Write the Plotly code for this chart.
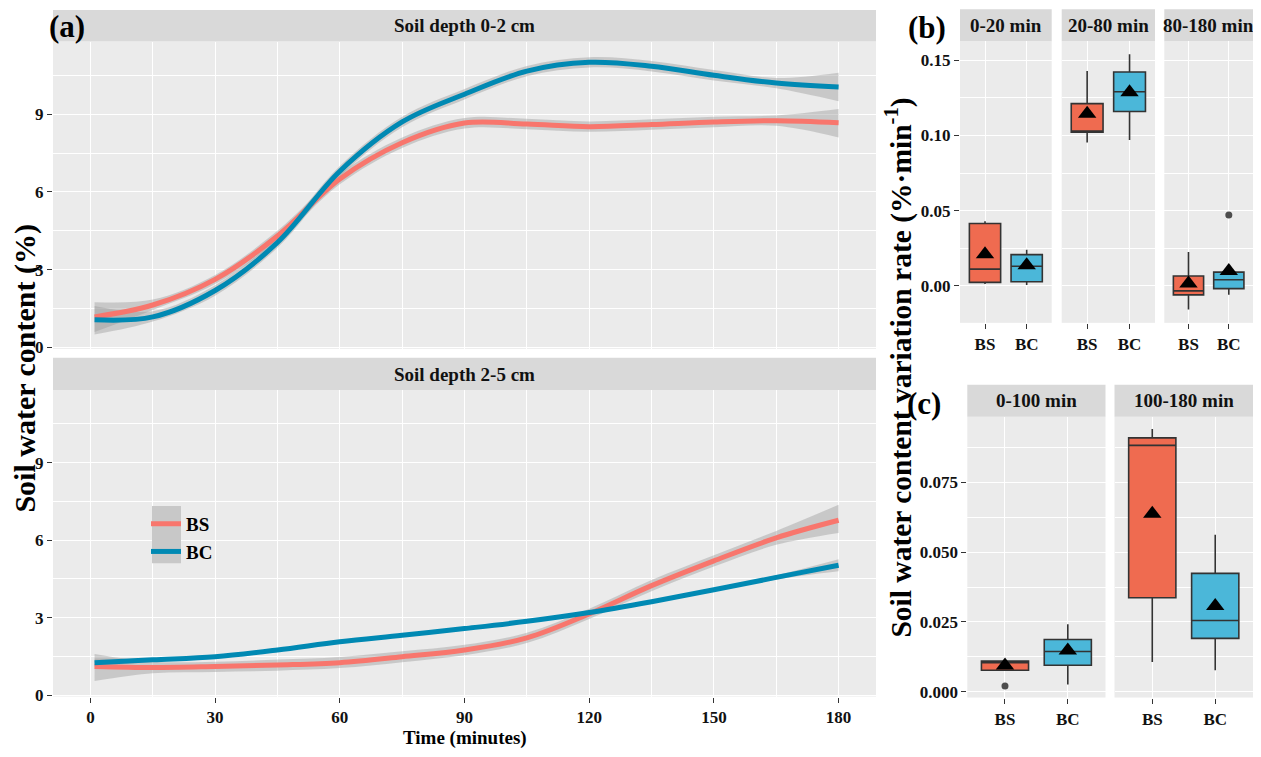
import plotly.graph_objects as go

# The page body adds an 8px margin on every side; the figure is sized to fit
# inside it (no scrolling), and layout positions are given in window pixels.
WIN_W, WIN_H = 1261, 757
OFF = 8
W, H = WIN_W - 2 * OFF, WIN_H - 2 * OFF
FONT = "Liberation Serif, Times New Roman, serif"

# ---------------- data: panel (a) smoothed soil water content ----------------
time_min = [1, 15, 30, 45, 60, 75, 90, 105, 120, 135, 150, 165, 180]

d02_bs = [1.18, 1.64, 2.63, 4.3, 6.5, 7.9, 8.66, 8.62, 8.52, 8.6, 8.7, 8.75, 8.67]
d02_bs_lo = [0.6, 1.45, 2.45, 4.1, 6.3, 7.7, 8.45, 8.42, 8.32, 8.4, 8.5, 8.55, 8.1]
d02_bs_hi = [1.75, 1.85, 2.8, 4.5, 6.7, 8.1, 8.85, 8.82, 8.72, 8.8, 8.9, 8.95, 9.2]
d02_bc = [1.07, 1.18, 2.2, 4.05, 6.8, 8.7, 9.77, 10.66, 11.0, 10.85, 10.5, 10.2, 10.05]
d02_bc_lo = [0.5, 1.0, 2.0, 3.85, 6.6, 8.5, 9.57, 10.46, 10.8, 10.65, 10.3, 10.0, 9.5]
d02_bc_hi = [1.6, 1.4, 2.4, 4.25, 7.0, 8.9, 9.97, 10.86, 11.2, 11.05, 10.7, 10.4, 10.6]

d25_bs = [1.11, 1.07, 1.11, 1.17, 1.26, 1.49, 1.75, 2.22, 3.15, 4.24, 5.2, 6.09, 6.77]
d25_bs_lo = [0.55, 0.85, 0.9, 0.95, 1.05, 1.28, 1.55, 2.02, 2.95, 4.02, 4.98, 5.82, 6.28]
d25_bs_hi = [1.6, 1.3, 1.3, 1.38, 1.48, 1.7, 1.95, 2.42, 3.35, 4.46, 5.42, 6.36, 7.37]
d25_bc = [1.26, 1.37, 1.49, 1.75, 2.07, 2.32, 2.58, 2.86, 3.2, 3.62, 4.08, 4.56, 5.03]
d25_bc_lo = [1.1, 1.3, 1.43, 1.69, 2.01, 2.26, 2.52, 2.8, 3.14, 3.56, 4.02, 4.48, 4.8]
d25_bc_hi = [1.42, 1.44, 1.55, 1.81, 2.13, 2.38, 2.64, 2.92, 3.26, 3.68, 4.14, 4.64, 5.26]

a_strips = ["Soil depth 0-2 cm", "Soil depth 2-5 cm"]
a_yticks = [0, 3, 6, 9]
a_xticks = [0, 30, 60, 90, 120, 150, 180]

# ---------------- data: panel (b) variation rate boxes ----------------
groups = ["BS", "BC"]
b_periods = ["0-20 min", "20-80 min", "80-180 min"]
b_bs_lo = [0.0013, 0.0953, -0.0157]
b_bs_q1 = [0.0024, 0.1021, -0.0059]
b_bs_med = [0.0112, 0.1028, -0.0033]
b_bs_q3 = [0.0415, 0.1211, 0.0066]
b_bs_hi = [0.0429, 0.1427, 0.0225]
b_bs_mean = [0.021, 0.1144, 0.0017]
b_bc_lo = [0.0007, 0.0969, -0.0059]
b_bc_q1 = [0.0028, 0.1159, -0.0018]
b_bc_med = [0.0131, 0.129, 0.0041]
b_bc_q3 = [0.0208, 0.1421, 0.0092]
b_bc_hi = [0.024, 0.1539, 0.0092]
b_bc_mean = [0.0138, 0.1286, 0.010]
b_outlier_period = [2]
b_outlier_group = ["BC"]
b_outlier_val = [0.0472]
b_yticks = [0.00, 0.05, 0.10, 0.15]

# ---------------- data: panel (c) variation rate boxes ----------------
c_periods = ["0-100 min", "100-180 min"]
c_bs_lo = [0.0077, 0.0106]
c_bs_q1 = [0.0077, 0.0337]
c_bs_med = [0.0104, 0.0883]
c_bs_q3 = [0.011, 0.091]
c_bs_hi = [0.011, 0.0942]
c_bs_mean = [0.0094, 0.0638]
c_bc_lo = [0.0026, 0.0077]
c_bc_q1 = [0.0095, 0.0191]
c_bc_med = [0.0144, 0.0255]
c_bc_q3 = [0.0187, 0.0424]
c_bc_hi = [0.0242, 0.0563]
c_bc_mean = [0.0148, 0.0307]
c_outlier_period = [0]
c_outlier_group = ["BS"]
c_outlier_val = [0.002]
c_yticks = [0.000, 0.025, 0.050, 0.075]

# ---------------- styles ----------------
LINE_BS = "#F8766D"
LINE_BC = "#0089B3"
BOX_BS = "#EF6B50"
BOX_BC = "#4BB7D9"
BAND = "rgba(153,153,153,0.42)"
PANEL_BG = "#EBEBEB"
STRIP_BG = "#D9D9D9"
TXT = "#111111"


def px_x(p):
    return (p - OFF) / W


def px_y(p):
    return 1 - (p - OFF) / H


def xd(p0, p1):
    return [px_x(p0), px_x(p1)]


def yd(p0, p1):
    return [px_y(p1), px_y(p0)]


fig = go.Figure()
layout = {}
shapes = []
annotations = []

tickfont = dict(family=FONT, size=17, color=TXT, weight="bold")

# ---- panel (a) geometry (window pixels) ----
A_X = (53, 876)
A_PANELS = [(42, 353), (395, 705)]
A_STRIPS = [(10, 42), (362, 395)]

series = [
    (d02_bs, d02_bs_lo, d02_bs_hi, d02_bc, d02_bc_lo, d02_bc_hi),
    (d25_bs, d25_bs_lo, d25_bs_hi, d25_bc, d25_bc_lo, d25_bc_hi),
]

for i, (bs, bs_lo, bs_hi, bc, bc_lo, bc_hi) in enumerate(series):
    n = i + 1
    xa = "x" if n == 1 else f"x{n}"
    ya = "y" if n == 1 else f"y{n}"
    for lo, hi in ((bs_lo, bs_hi), (bc_lo, bc_hi)):
        fig.add_trace(go.Scatter(x=time_min, y=lo, xaxis=xa, yaxis=ya, mode="lines",
                                 line=dict(width=0, shape="spline"), showlegend=False,
                                 hoverinfo="skip"))
        fig.add_trace(go.Scatter(x=time_min, y=hi, xaxis=xa, yaxis=ya, mode="lines",
                                 line=dict(width=0, shape="spline"), fill="tonexty",
                                 fillcolor=BAND, showlegend=False, hoverinfo="skip"))
    fig.add_trace(go.Scatter(x=time_min, y=bs, xaxis=xa, yaxis=ya, mode="lines", name="BS",
                             line=dict(color=LINE_BS, width=5, shape="spline"),
                             showlegend=(i == 0)))
    fig.add_trace(go.Scatter(x=time_min, y=bc, xaxis=xa, yaxis=ya, mode="lines", name="BC",
                             line=dict(color=LINE_BC, width=5, shape="spline"),
                             showlegend=(i == 0)))

    py0, py1 = A_PANELS[i]
    layout["xaxis" if n == 1 else f"xaxis{n}"] = dict(
        domain=xd(*A_X), anchor=ya, range=[-9, 189], tickvals=a_xticks,
        showticklabels=(i == 1), ticks="outside" if i == 1 else "", ticklen=5,
        tickcolor="#333", tickwidth=1, tickfont=tickfont, ticklabelstandoff=0,
        showgrid=True, gridcolor="white", gridwidth=1.3, zeroline=False, showline=False,
        minor=dict(dtick=15, tick0=0, showgrid=True, gridcolor="white", gridwidth=0.6),
    )
    layout["yaxis" if n == 1 else f"yaxis{n}"] = dict(
        domain=yd(py0, py1), anchor=xa, range=[-0.05, 11.8], tickvals=a_yticks,
        ticks="outside", ticklen=5, tickcolor="#333", tickwidth=1, tickfont=tickfont,
        showgrid=True, gridcolor="white", gridwidth=1.3, zeroline=False,
        minor=dict(dtick=1.5, tick0=0, showgrid=True, gridcolor="white", gridwidth=0.6),
    )
    sy0, sy1 = A_STRIPS[i]
    shapes.append(dict(type="rect", xref="paper", yref="paper", x0=px_x(A_X[0]),
                       x1=px_x(A_X[1]), y0=px_y(sy1), y1=px_y(sy0), fillcolor=STRIP_BG,
                       line=dict(width=0), layer="below"))
    annotations.append(dict(text=a_strips[i], x=px_x((A_X[0] + A_X[1]) / 2),
                            y=px_y((sy0 + sy1) / 2), xref="paper", yref="paper",
                            showarrow=False, xanchor="center", yanchor="middle",
                            font=dict(family=FONT, size=19, color=TXT, weight="bold")))


def box_facets(start_n, periods, data_bs, data_bc, means_bs, means_bc, outliers,
               xs, py, spy, yrange, yticks, minor_dtick, ytickfmt):
    for k, period in enumerate(periods):
        n = start_n + k
        xa, ya = f"x{n}", f"y{n}"
        for grp, data, col in (("BS", data_bs, BOX_BS), ("BC", data_bc, BOX_BC)):
            lo, q1, med, q3, hi = data
            fig.add_trace(go.Box(x=[grp], lowerfence=[lo[k]], q1=[q1[k]], median=[med[k]],
                                 q3=[q3[k]], upperfence=[hi[k]], xaxis=xa, yaxis=ya,
                                 fillcolor=col, line=dict(color="#333333", width=1.6),
                                 whiskerwidth=0, width=0.75, boxpoints=False,
                                 showlegend=False, hoverinfo="skip"))
        o_per, o_grp, o_val = outliers
        ox = [g for p, g in zip(o_per, o_grp) if p == k]
        oy = [v for p, v in zip(o_per, o_val) if p == k]
        if ox:
            fig.add_trace(go.Scatter(x=ox, y=oy, xaxis=xa, yaxis=ya, mode="markers",
                                     marker=dict(symbol="circle", size=7, color="#4d4d4d"),
                                     showlegend=False, hoverinfo="skip"))
        fig.add_trace(go.Scatter(x=groups, y=[means_bs[k], means_bc[k]], xaxis=xa, yaxis=ya,
                                 mode="markers",
                                 marker=dict(symbol="triangle-up", size=16, color="black"),
                                 showlegend=False, hoverinfo="skip"))
        x0, x1 = xs[k]
        layout[f"xaxis{n}"] = dict(
            domain=xd(x0, x1), anchor=ya, type="category", categoryorder="array",
            categoryarray=groups, range=[-0.6, 1.6], ticks="outside", ticklen=5,
            tickcolor="#333", tickfont=tickfont, ticklabelstandoff=1, showgrid=True,
            gridcolor="white", gridwidth=1.3, zeroline=False,
        )
        layout[f"yaxis{n}"] = dict(
            domain=yd(*py), anchor=xa, range=yrange, tickvals=yticks,
            tickformat=ytickfmt, showticklabels=(k == 0), ticks="outside" if k == 0 else "",
            ticklen=5, tickcolor="#333", tickfont=tickfont, showgrid=True,
            gridcolor="white", gridwidth=1.3, zeroline=False,
            minor=dict(dtick=minor_dtick, tick0=0, showgrid=True, gridcolor="white",
                       gridwidth=0.6),
        )
        shapes.append(dict(type="rect", xref="paper", yref="paper", x0=px_x(x0), x1=px_x(x1),
                           y0=px_y(spy[1]), y1=px_y(spy[0]), fillcolor=STRIP_BG,
                           line=dict(width=0), layer="below"))
        annotations.append(dict(text=period, x=px_x((x0 + x1) / 2), y=px_y((spy[0] + spy[1]) / 2),
                                xref="paper", yref="paper", showarrow=False,
                                xanchor="center", yanchor="middle",
                                font=dict(family=FONT, size=19, color=TXT, weight="bold")))


box_facets(3, b_periods,
           (b_bs_lo, b_bs_q1, b_bs_med, b_bs_q3, b_bs_hi),
           (b_bc_lo, b_bc_q1, b_bc_med, b_bc_q3, b_bc_hi),
           b_bs_mean, b_bc_mean,
           (b_outlier_period, b_outlier_group, b_outlier_val),
           [(960, 1051.7), (1061.7, 1155), (1164.3, 1253)],
           (41.7, 326.7), (9.3, 41.7), [-0.0245, 0.1625], b_yticks, 0.025, ".2f")

box_facets(6, c_periods,
           (c_bs_lo, c_bs_q1, c_bs_med, c_bs_q3, c_bs_hi),
           (c_bc_lo, c_bc_q1, c_bc_med, c_bc_q3, c_bc_hi),
           c_bs_mean, c_bc_mean,
           (c_outlier_period, c_outlier_group, c_outlier_val),
           [(967.3, 1105.5), (1114.5, 1253)],
           (421.7, 706), (389.3, 421.7), [-0.0021, 0.0986], c_yticks, 0.0125, ".3f")

# legend key background (gray band behind keys)
shapes.append(dict(type="rect", xref="paper", yref="paper", x0=px_x(152), x1=px_x(181),
                   y0=px_y(570), y1=px_y(512), fillcolor="#C8C8C8",
                   line=dict(width=0), layer="above"))

# panel labels and axis titles
for lbl, px, py in (("(a)", 67, 27), ("(b)", 927, 28), ("(c)", 924, 408)):
    annotations.append(dict(text=lbl, x=px_x(px), y=px_y(py), xref="paper", yref="paper",
                            showarrow=False, xanchor="center", yanchor="middle",
                            font=dict(family=FONT, size=31, color="black", weight="bold")))

annotations.append(dict(text="Soil water content (%)", x=px_x(25), y=px_y(373), xref="paper",
                        yref="paper", showarrow=False, textangle=-90, xanchor="center",
                        yanchor="middle",
                        font=dict(family=FONT, size=30, color="black", weight="bold")))
annotations.append(dict(text="Time (minutes)", x=px_x(465), y=px_y(746.5), xref="paper",
                        yref="paper", showarrow=False, xanchor="center", yanchor="middle",
                        borderpad=0,
                        font=dict(family=FONT, size=19, color="black", weight="bold")))
annotations.append(dict(text="Soil water content variation rate (%·min<sup>-1</sup>)",
                        x=px_x(899), y=px_y(372), xref="paper", yref="paper",
                        showarrow=False, textangle=-90, xanchor="center", yanchor="middle",
                        font=dict(family=FONT, size=29.5, color="black", weight="bold")))

fig.update_layout(
    width=W, height=H, margin=dict(l=0, r=0, t=0, b=0),
    paper_bgcolor="white", plot_bgcolor=PANEL_BG, boxmode="overlay",
    shapes=shapes, annotations=annotations,
    legend=dict(x=px_x(146), y=px_y(511), xanchor="left", yanchor="top",
                bgcolor="rgba(0,0,0,0)", itemwidth=30, tracegroupgap=0, traceorder="normal",
                font=dict(family=FONT, size=19, color="black", weight="bold")),
    **layout,
)

fig.write_html("out.html")
